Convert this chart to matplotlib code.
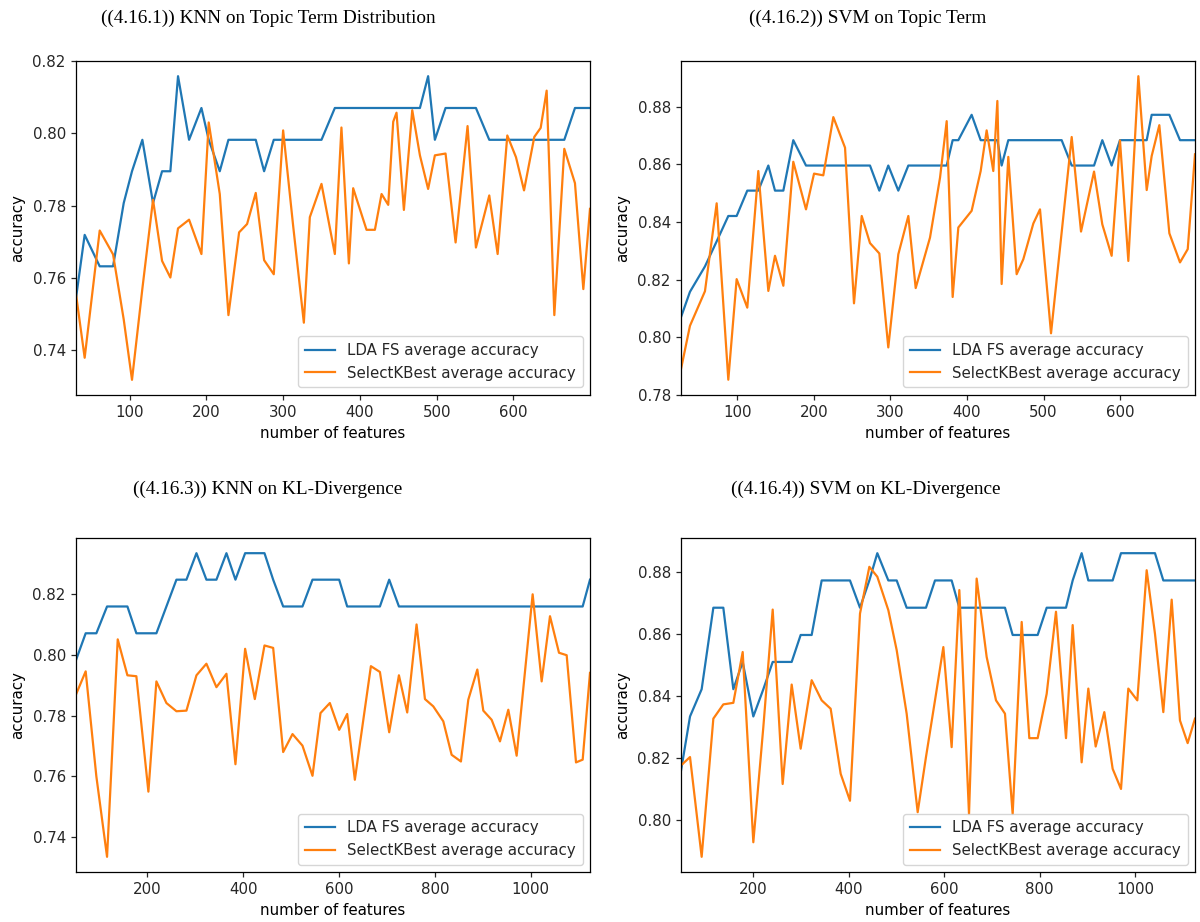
import matplotlib
matplotlib.use("Agg")
import matplotlib.pyplot as plt

# ---------------- data ----------------
# (4.16.1) KNN on Topic Term Distribution
x1 = [30, 41.3, 60.9, 78.3, 92.2, 103, 116.5, 130.4, 142.2, 153, 163, 177.4, 193.5, 203,
      217.4, 228.7, 242.6, 253, 264.3, 275.2, 287.8, 300, 313, 327, 334.8, 350, 367.4, 376,
      385.7, 391.3, 408.7, 419.6, 428.3, 437, 443.5, 447.8, 457.4, 468.3, 478.3, 489, 497.8,
      511.7, 524.8, 540.4, 551.3, 568.7, 579.6, 592.2, 603.5, 614, 627.4, 635.7, 643.5, 653.5,
      666.5, 680.4, 691.3, 700]
lda1 = [0.7544, 0.7719, 0.7632, 0.7632, 0.7807, 0.7895, 0.7982, 0.7807, 0.7895, 0.7895,
        0.8158, 0.7982, 0.8070, 0.7982, 0.7895, 0.7982, 0.7982, 0.7982, 0.7982, 0.7895,
        0.7982, 0.7982, 0.7982, 0.7982, 0.7982, 0.7982, 0.8070, 0.8070, 0.8070, 0.8070,
        0.8070, 0.8070, 0.8070, 0.8070, 0.8070, 0.8070, 0.8070, 0.8070, 0.8070, 0.8158,
        0.7982, 0.8070, 0.8070, 0.8070, 0.8070, 0.7982, 0.7982, 0.7982, 0.7982, 0.7982,
        0.7982, 0.7982, 0.7982, 0.7982, 0.7982, 0.8070, 0.8070, 0.8070]
skb1 = [0.7555, 0.7379, 0.7731, 0.7665, 0.7485, 0.7318, 0.7570, 0.7816, 0.7647, 0.7601,
        0.7737, 0.7761, 0.7666, 0.8030, 0.7832, 0.7497, 0.7726, 0.7749, 0.7835, 0.7649,
        0.7610, 0.8008, 0.7745, 0.7476, 0.7768, 0.7860, 0.7666, 0.8016, 0.7640, 0.7848,
        0.7733, 0.7733, 0.7832, 0.7802, 0.8032, 0.8057, 0.7788, 0.8064, 0.7939, 0.7846,
        0.7939, 0.7944, 0.7698, 0.8020, 0.7684, 0.7828, 0.7666, 0.7994, 0.7934, 0.7842,
        0.7990, 0.8015, 0.8118, 0.7497, 0.7957, 0.7862, 0.7569, 0.7791]

# (4.16.2) SVM on Topic Term
x2 = [26.4, 38.1, 57.7, 73.0, 88.2, 99.1, 113.0, 127.4, 140.5, 149.2, 160.1, 173.1, 189.7,
      200.2, 212.3, 225.4, 240.7, 252.4, 262.5, 273.3, 285.5, 297.2, 310.3, 323.4, 333.0,
      351.7, 364.8, 373.5, 381.3, 388.7, 406.1, 417.9, 425.7, 434.4, 439.7, 445.3, 454.0,
      464.9, 473.6, 486.7, 495.4, 509.8, 523.7, 536.8, 549.0, 566.0, 576.8, 589.0, 599.9,
      610.8, 623.9, 634.8, 641.3, 651.3, 664.4, 678.3, 688.4, 697.9]
lda2 = [0.8070, 0.8158, 0.8246, 0.8333, 0.8421, 0.8421, 0.8509, 0.8509, 0.8596, 0.8509,
        0.8509, 0.8684, 0.8596, 0.8596, 0.8596, 0.8596, 0.8596, 0.8596, 0.8596, 0.8596,
        0.8509, 0.8596, 0.8509, 0.8596, 0.8596, 0.8596, 0.8596, 0.8596, 0.8684, 0.8684,
        0.8772, 0.8684, 0.8684, 0.8684, 0.8684, 0.8596, 0.8684, 0.8684, 0.8684, 0.8684,
        0.8684, 0.8684, 0.8684, 0.8596, 0.8596, 0.8596, 0.8684, 0.8596, 0.8684, 0.8684,
        0.8684, 0.8684, 0.8772, 0.8772, 0.8772, 0.8684, 0.8684, 0.8684]
skb2 = [0.7890, 0.8040, 0.8160, 0.8465, 0.7853, 0.8202, 0.8103, 0.8577, 0.8161, 0.8283,
        0.8179, 0.8609, 0.8444, 0.8568, 0.8562, 0.8764, 0.8658, 0.8118, 0.8421, 0.8327,
        0.8291, 0.7965, 0.8288, 0.8421, 0.8171, 0.8346, 0.8554, 0.8750, 0.8140, 0.8381,
        0.8439, 0.8577, 0.8718, 0.8577, 0.8820, 0.8185, 0.8626, 0.8219, 0.8271, 0.8395,
        0.8444, 0.8014, 0.8364, 0.8695, 0.8367, 0.8575, 0.8392, 0.8283, 0.8683, 0.8265,
        0.8906, 0.8511, 0.8629, 0.8736, 0.8361, 0.8260, 0.8306, 0.8635]

# (4.16.3) KNN on KL-Divergence
x3 = [51.0, 71.2, 93.5, 115.8, 138.1, 158.3, 177.0, 202.1, 218.8, 239.7, 260.6, 281.5,
      302.4, 323.2, 344.1, 365.0, 383.8, 404.0, 424.2, 444.4, 462.5, 483.4, 502.9, 523.7,
      544.6, 561.3, 580.8, 600.3, 617.0, 633.0, 666.5, 685.3, 704.7, 725.0, 742.3, 761.8,
      779.3, 796.7, 817.6, 835.0, 854.4, 869.8, 888.6, 901.1, 918.5, 935.9, 953.3, 970.7,
      1004.1, 1022.9, 1040.3, 1059.1, 1075.1, 1094.6, 1108.5, 1123.8]
lda3 = [0.7982, 0.8070, 0.8070, 0.8158, 0.8158, 0.8158, 0.8070, 0.8070, 0.8070, 0.8158,
        0.8246, 0.8246, 0.8333, 0.8246, 0.8246, 0.8333, 0.8246, 0.8333, 0.8333, 0.8333,
        0.8246, 0.8158, 0.8158, 0.8158, 0.8246, 0.8246, 0.8246, 0.8246, 0.8158, 0.8158,
        0.8158, 0.8158, 0.8246, 0.8158, 0.8158, 0.8158, 0.8158, 0.8158, 0.8158, 0.8158,
        0.8158, 0.8158, 0.8158, 0.8158, 0.8158, 0.8158, 0.8158, 0.8158, 0.8158, 0.8158,
        0.8158, 0.8158, 0.8158, 0.8158, 0.8158, 0.8246]
skb3 = [0.7869, 0.7945, 0.7600, 0.7336, 0.8050, 0.7932, 0.7929, 0.7550, 0.7912, 0.7841,
        0.7814, 0.7816, 0.7932, 0.7970, 0.7893, 0.7937, 0.7640, 0.8019, 0.7854, 0.8030,
        0.8022, 0.7680, 0.7739, 0.7701, 0.7602, 0.7808, 0.7841, 0.7753, 0.7805, 0.7589,
        0.7962, 0.7943, 0.7745, 0.7932, 0.7810, 0.8099, 0.7854, 0.7830, 0.7781, 0.7671,
        0.7649, 0.7852, 0.7951, 0.7816, 0.7786, 0.7715, 0.7819, 0.7668, 0.8198, 0.7912,
        0.8126, 0.8006, 0.7998, 0.7646, 0.7655, 0.7940]

# (4.16.4) SVM on KL-Divergence
x4 = [48.4, 67.3, 91.7, 116.2, 137.1, 158.1, 177.7, 200.0, 221.0, 240.6, 261.5, 280.4,
      299.2, 322.3, 343.3, 362.1, 383.1, 402.6, 423.6, 443.2, 459.9, 483.0, 500.5, 521.4,
      544.5, 561.9, 580.8, 598.3, 615.7, 631.8, 652.1, 668.1, 689.1, 708.7, 727.5, 743.6,
      762.5, 778.5, 796.0, 814.9, 834.4, 855.4, 869.4, 888.2, 902.2, 917.6, 935.7, 953.2,
      970.7, 986.0, 1004.9, 1024.5, 1041.9, 1059.4, 1076.9, 1094.3, 1110.4, 1125.8]
lda4 = [0.8158, 0.8333, 0.8421, 0.8684, 0.8684, 0.8421, 0.8509, 0.8333, 0.8421, 0.8509,
        0.8509, 0.8509, 0.8596, 0.8596, 0.8772, 0.8772, 0.8772, 0.8772, 0.8684, 0.8772,
        0.8860, 0.8772, 0.8772, 0.8684, 0.8684, 0.8684, 0.8772, 0.8772, 0.8772, 0.8684,
        0.8684, 0.8684, 0.8684, 0.8684, 0.8684, 0.8596, 0.8596, 0.8596, 0.8596, 0.8684,
        0.8684, 0.8684, 0.8772, 0.8860, 0.8772, 0.8772, 0.8772, 0.8772, 0.8860, 0.8860,
        0.8860, 0.8860, 0.8860, 0.8772, 0.8772, 0.8772, 0.8772, 0.8772]
skb4 = [0.8175, 0.8202, 0.7880, 0.8326, 0.8372, 0.8377, 0.8541, 0.7927, 0.8299, 0.8678,
        0.8115, 0.8436, 0.8229, 0.8450, 0.8385, 0.8358, 0.8148, 0.8061, 0.8665, 0.8816,
        0.8784, 0.8676, 0.8547, 0.8342, 0.8024, 0.8202, 0.8385, 0.8557, 0.8234, 0.8741,
        0.8018, 0.8778, 0.8525, 0.8385, 0.8342, 0.8018, 0.8638, 0.8263, 0.8263, 0.8406,
        0.8671, 0.8263, 0.8628, 0.8185, 0.8423, 0.8236, 0.8347, 0.8164, 0.8099, 0.8423,
        0.8385, 0.8805, 0.8600, 0.8347, 0.8710, 0.8320, 0.8247, 0.8326]

titles = ["((4.16.1)) KNN on Topic Term Distribution",
          "((4.16.2)) SVM on Topic Term",
          "((4.16.3)) KNN on KL-Divergence",
          "((4.16.4)) SVM on KL-Divergence"]
legend_labels = ["LDA FS average accuracy", "SelectKBest average accuracy"]
x_label = "number of features"
y_label = "accuracy"

# ---------------- figure ----------------
W, H = 1200, 922
plt.rcParams["font.family"] = "DejaVu Sans"
plt.rcParams["font.size"] = 10.8
plt.rcParams["axes.linewidth"] = 0.9
plt.rcParams["xtick.major.size"] = 3.8
plt.rcParams["ytick.major.size"] = 3.8
plt.rcParams["xtick.major.width"] = 0.9
plt.rcParams["ytick.major.width"] = 0.9
plt.rcParams["text.color"] = "#262626"
plt.rcParams["xtick.color"] = "#262626"
plt.rcParams["ytick.color"] = "#262626"

fig = plt.figure(figsize=(W / 100, H / 100), dpi=100)

# axes boxes in pixels: left, top, right, bottom
boxes = [(76, 61, 590, 395), (681, 61, 1195, 395),
         (76, 538, 590, 872), (681, 538, 1195, 872)]
title_pos = [(268, 18.5), (868, 18.5), (268, 489), (866, 489)]

datasets = [(x1, lda1, skb1), (x2, lda2, skb2), (x3, lda3, skb3), (x4, lda4, skb4)]
xticks = [[100, 200, 300, 400, 500, 600], [100, 200, 300, 400, 500, 600],
          [200, 400, 600, 800, 1000], [200, 400, 600, 800, 1000]]
yticks = [[0.74, 0.76, 0.78, 0.80, 0.82], [0.78, 0.80, 0.82, 0.84, 0.86, 0.88],
          [0.74, 0.76, 0.78, 0.80, 0.82], [0.80, 0.82, 0.84, 0.86, 0.88]]

for i, ((l, t, r, b), (xs, lda, skb)) in enumerate(zip(boxes, datasets)):
    ax = fig.add_axes([l / W, 1 - b / H, (r - l) / W, (b - t) / H])
    ax.plot(xs, lda, color="#1f77b4", lw=1.6, label=legend_labels[0])
    ax.plot(xs, skb, color="#ff7f0e", lw=1.6, label=legend_labels[1])
    ax.set_xlim(xs[0], xs[-1])
    ax.set_xticks(xticks[i])
    ax.set_yticks(yticks[i])
    ax.set_yticklabels([f"{v:.2f}" for v in yticks[i]])
    ax.set_xlabel(x_label, labelpad=4.5)
    ax.set_ylabel(y_label, labelpad=5)
    ax.legend(loc="lower right", fontsize=10.8, framealpha=0.8,
              edgecolor="#cccccc", borderpad=0.45, handlelength=2.0)
    tx, ty = title_pos[i]
    fig.text(tx / W, 1 - ty / H, titles[i], ha="center", va="center",
             family=["Liberation Serif", "DejaVu Serif"], fontsize=13.9, color="black")

fig.savefig("out.png", dpi=100)
